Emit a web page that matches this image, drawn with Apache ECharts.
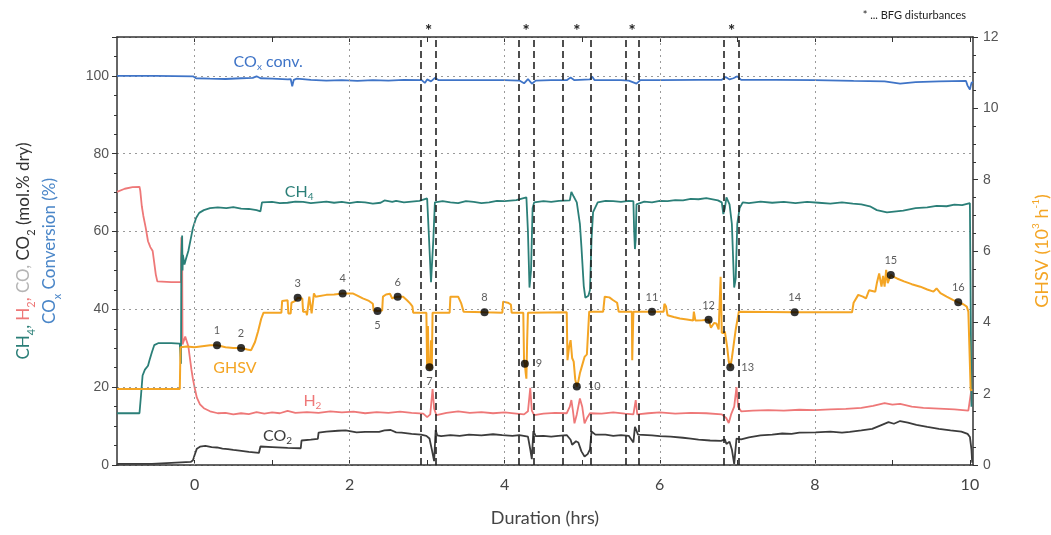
<!DOCTYPE html>
<html>
<head>
<meta charset="utf-8">
<script src="https://cdn.jsdelivr.net/npm/echarts@6/dist/echarts.min.js"></script>
<style>
html, body { margin: 0; padding: 0; background: #fff; }
#main { width: 1051px; height: 535px; }
</style>
</head>
<body>
<div id="main"></div>
<script>
// time in hrs
var coxData = [[-1,100],[-0.5,100],[-0.02,99.9],[0.02,99.4],[0.2,99.3],[0.4,99.2],[0.6,99.4],[0.75,99.5],[0.8,99.9],[0.85,99.4],[1.0,99.3],[1.2,99.1],[1.24,99.2],[1.26,97.3],[1.28,99.0],[1.32,99.3],[1.5,99.0],[1.7,98.8],[1.9,98.9],[2.1,98.7],[2.3,98.9],[2.5,98.8],[2.7,99.0],[2.93,98.9],[2.97,98.2],[3.0,99.1],[3.05,98.6],[3.1,99.5],[3.15,98.9],[3.5,98.9],[4.0,98.9],[4.19,98.8],[4.25,98.1],[4.3,99.2],[4.35,98.0],[4.4,98.8],[4.6,98.9],[4.8,98.9],[4.85,99.6],[4.9,98.9],[5.1,99.1],[5.13,99.8],[5.16,98.9],[5.5,98.9],[5.6,98.8],[5.7,98.0],[5.75,98.9],[6.0,98.9],[6.5,99.0],[6.8,99.0],[6.85,99.7],[6.9,99.1],[6.95,99.4],[7.0,99.9],[7.05,99.0],[7.5,99.0],[8.0,98.9],[8.5,98.7],[8.9,98.6],[9.1,98.0],[9.3,98.4],[9.6,98.6],[9.95,98.7],[9.97,97.5],[10.0,96.5],[10.02,98.2],[10.04,98.5]];

var ch4Data = [[-1.0,13.3],[-0.71,13.3],[-0.69,18],[-0.67,23],[-0.64,24.5],[-0.6,25.5],[-0.58,27],[-0.55,29],[-0.52,30.8],[-0.47,31.3],[-0.3,31.3],[-0.19,31.2],[-0.175,26],[-0.17,53],[-0.16,59],[-0.155,50],[-0.15,54],[-0.13,51.5],[-0.11,53],[-0.08,55],[-0.05,58],[-0.02,61],[0.02,63.5],[0.06,64.8],[0.12,65.5],[0.2,66],[0.3,66.2],[0.41,66],[0.5,66.3],[0.6,65.9],[0.7,65.8],[0.8,65.5],[0.85,65.2],[0.87,67.5],[1.0,67.6],[1.1,67.3],[1.2,67.4],[1.3,67.7],[1.4,67.6],[1.5,67.3],[1.6,67.5],[1.7,67.7],[1.8,67.4],[1.9,67.6],[2.0,67.3],[2.1,67.6],[2.2,67.5],[2.3,67.2],[2.4,67.4],[2.45,68],[2.55,67.6],[2.6,67.9],[2.7,67.5],[2.8,67.7],[2.9,67.9],[2.95,68.2],[3.0,68.5],[3.02,60],[3.05,47],[3.07,46.5],[3.08,58],[3.1,67.5],[3.2,67.8],[3.3,67.5],[3.4,67.3],[3.5,67.8],[3.6,67.6],[3.7,67.3],[3.8,67.5],[3.9,67.9],[4.0,67.8],[4.15,68.1],[4.28,68.8],[4.3,60],[4.32,45.6],[4.34,50],[4.36,66],[4.38,67.5],[4.5,67.8],[4.6,67.6],[4.7,67.9],[4.84,68],[4.86,70.2],[4.89,69],[4.93,67.5],[4.97,62],[4.99,56],[5.02,46],[5.04,43],[5.08,43.5],[5.1,45],[5.12,58],[5.14,65],[5.2,67.5],[5.3,67.9],[5.4,67.8],[5.5,67.6],[5.6,67.9],[5.66,67.8],[5.67,60],[5.68,55.5],[5.69,58],[5.7,67],[5.8,67.7],[5.9,67.5],[6.0,67.9],[6.1,67.8],[6.2,68.1],[6.3,68],[6.4,68.4],[6.5,68.3],[6.6,68.6],[6.75,68],[6.8,67.5],[6.82,64.5],[6.84,66],[6.86,68.8],[6.9,67],[6.93,62],[6.96,45.6],[6.98,48],[7.0,62],[7.03,66],[7.07,67.5],[7.15,67.3],[7.3,67.7],[7.45,67.4],[7.6,67.6],[7.75,67.3],[7.9,67.6],[8.05,67.4],[8.2,67.2],[8.35,67.5],[8.49,67.2],[8.6,67],[8.71,66.5],[8.8,65.5],[8.93,64.9],[9.05,65.2],[9.14,65.4],[9.3,66],[9.45,66.2],[9.57,66.6],[9.7,66.5],[9.8,66.9],[9.9,66.8],[10.0,67.3],[10.01,67.5],[10.02,15]];

var h2Data = [[-1.0,70.2],[-0.9,71],[-0.8,71.4],[-0.71,71.5],[-0.7,70.5],[-0.68,66.5],[-0.66,64],[-0.63,61],[-0.6,57.5],[-0.57,56],[-0.54,55],[-0.52,52],[-0.5,49],[-0.48,47.2],[-0.3,47],[-0.175,47],[-0.17,58.5],[-0.165,49],[-0.16,56],[-0.155,31],[-0.14,31.5],[-0.12,33],[-0.1,32.5],[-0.08,30.5],[-0.06,27.5],[-0.04,24.5],[-0.02,22],[0.0,20],[0.03,17.3],[0.07,15.6],[0.12,14.6],[0.2,13.8],[0.3,13.3],[0.4,13.4],[0.5,13.0],[0.6,13.3],[0.7,13.1],[0.8,13.6],[0.9,13.2],[1.0,13.5],[1.1,13.3],[1.2,13.9],[1.3,13.4],[1.45,13.6],[1.6,13.4],[1.75,13.8],[1.9,13.5],[2.05,13.7],[2.2,13.3],[2.35,13.6],[2.5,13.4],[2.65,13.7],[2.8,13.4],[2.95,13.2],[3.0,12.3],[3.04,13],[3.07,19.5],[3.09,14.5],[3.12,12.8],[3.25,13.4],[3.4,13.8],[3.55,13.4],[3.7,13.6],[3.85,13.3],[4.0,13.5],[4.15,13.2],[4.25,13.0],[4.3,13.8],[4.33,19.8],[4.35,14],[4.38,12.8],[4.5,13.2],[4.65,13.4],[4.8,13.3],[4.84,15],[4.86,16.7],[4.88,14],[4.9,10.7],[4.93,13],[4.97,17.1],[5.0,15],[5.03,10.7],[5.06,12],[5.1,13.3],[5.25,13.2],[5.4,13.5],[5.55,13.2],[5.66,13],[5.69,16.7],[5.71,13],[5.85,13.3],[6.0,13.5],[6.2,13.2],[6.4,13.4],[6.6,13.3],[6.8,13.0],[6.86,12],[6.89,10.8],[6.92,13],[6.96,15],[6.99,20],[7.01,15],[7.05,13.8],[7.2,14],[7.4,14.1],[7.6,14.0],[7.8,14.2],[8.0,14.1],[8.2,14.3],[8.4,14.4],[8.6,14.7],[8.75,15.2],[8.9,15.9],[9.0,15.5],[9.1,15.7],[9.25,15.0],[9.4,14.7],[9.6,14.5],[9.8,14.3],[9.98,14.0],[10.0,14.2],[10.02,19.5]];

var co2Data = [[-1.0,0.3],[-0.55,0.3],[-0.54,0.8],[-0.05,0.8],[-0.02,1.2],[0.0,2.5],[0.03,4.2],[0.07,4.7],[0.14,4.9],[0.22,4.6],[0.29,4.5],[0.36,4.2],[0.43,4.1],[0.5,3.9],[0.58,3.7],[0.7,3.4],[0.83,3.1],[0.85,4.75],[1.0,4.6],[1.2,4.4],[1.37,4.3],[1.38,6.3],[1.5,6.5],[1.59,6.7],[1.6,8.3],[1.7,8.6],[1.85,8.8],[1.95,8.9],[2.09,8.4],[2.2,8.5],[2.38,8.5],[2.45,8.9],[2.53,9.0],[2.6,8.4],[2.67,8.3],[2.8,8.0],[2.92,7.8],[2.99,7.5],[3.03,6.8],[3.06,4],[3.09,1.0],[3.11,9.0],[3.13,7.6],[3.18,7.4],[3.3,7.7],[3.42,7.5],[3.54,7.8],[3.7,7.6],[3.85,7.9],[3.97,7.7],[4.1,7.5],[4.19,7.7],[4.3,7.3],[4.33,4],[4.35,1.5],[4.37,8.7],[4.4,7.4],[4.5,7.5],[4.6,7.3],[4.69,7.5],[4.8,7.7],[4.85,6.5],[4.87,5.2],[4.92,6.1],[4.95,5.8],[4.99,3.5],[5.03,2.2],[5.07,2.8],[5.1,4],[5.12,8.6],[5.17,7.8],[5.3,7.8],[5.4,7.5],[5.5,7.7],[5.6,7.5],[5.66,5.8],[5.68,9.8],[5.72,7.8],[5.9,7.6],[6.0,7.4],[6.14,7.3],[6.3,7.0],[6.4,6.8],[6.5,6.5],[6.65,6.3],[6.79,6.2],[6.84,6.6],[6.86,5.4],[6.9,6.0],[6.93,4],[6.96,0.3],[6.99,6.8],[7.05,6.6],[7.15,7.1],[7.3,7.6],[7.45,7.8],[7.58,8.1],[7.7,8.0],[7.8,8.3],[8.01,8.4],[8.2,8.6],[8.35,8.3],[8.45,8.5],[8.6,8.9],[8.74,9.3],[8.85,10.2],[8.95,11.0],[9.02,10.6],[9.1,11.3],[9.2,10.9],[9.31,10.3],[9.45,9.8],[9.6,9.3],[9.75,8.9],[9.89,8.6],[9.97,8.0],[10.0,7.2],[10.02,4],[10.03,0.6]];

// GHSV in 10^3 h^-1 (right axis)
var ghsvData = [[-1.0,2.13],[-0.19,2.13],[-0.185,2.8],[-0.18,3.3],[-0.1,3.32],[0.0,3.3],[0.1,3.33],[0.2,3.36],[0.29,3.36],[0.4,3.3],[0.5,3.28],[0.6,3.28],[0.68,3.24],[0.73,3.22],[0.78,3.45],[0.82,3.75],[0.86,4.1],[0.89,4.27],[1.0,4.27],[1.12,4.27],[1.13,4.6],[1.2,4.62],[1.21,4.25],[1.24,4.25],[1.25,4.55],[1.3,4.6],[1.33,4.69],[1.39,4.67],[1.4,4.3],[1.44,4.3],[1.45,4.2],[1.47,4.2],[1.48,4.72],[1.5,4.72],[1.51,4.25],[1.53,4.25],[1.54,4.81],[1.56,4.72],[1.58,4.75],[1.7,4.77],[1.8,4.78],[1.91,4.81],[2.04,4.81],[2.1,4.75],[2.17,4.67],[2.25,4.6],[2.3,4.52],[2.31,4.33],[2.36,4.32],[2.42,4.33],[2.43,4.72],[2.47,4.78],[2.52,4.8],[2.55,4.67],[2.58,4.7],[2.62,4.72],[2.69,4.72],[2.74,4.62],[2.78,4.53],[2.81,4.45],[2.82,4.27],[2.99,4.27],[3.0,2.7],[3.01,3.9],[3.02,2.72],[3.04,2.66],[3.05,3.5],[3.06,2.7],[3.07,4.27],[3.29,4.27],[3.3,4.72],[3.4,4.72],[3.44,4.53],[3.47,4.3],[3.48,4.27],[3.74,4.28],[3.97,4.27],[3.98,4.58],[4.04,4.55],[4.08,4.5],[4.09,4.27],[4.24,4.27],[4.25,2.9],[4.26,2.84],[4.27,2.6],[4.28,2.42],[4.29,3.5],[4.3,4.27],[4.8,4.28],[4.81,2.94],[4.83,3.3],[4.85,3.5],[4.87,3.0],[4.89,2.9],[4.91,2.4],[4.93,2.2],[4.95,2.35],[4.97,2.57],[5.0,2.8],[5.03,3.03],[5.06,3.1],[5.08,3.15],[5.09,4.3],[5.27,4.3],[5.29,4.72],[5.35,4.7],[5.4,4.62],[5.45,4.55],[5.47,4.3],[5.64,4.3],[5.645,2.94],[5.655,2.94],[5.66,4.3],[5.9,4.3],[6.05,4.3],[6.06,4.52],[6.08,4.45],[6.1,4.2],[6.18,4.15],[6.26,4.11],[6.35,4.08],[6.43,4.05],[6.44,4.3],[6.46,4.05],[6.55,4.06],[6.63,4.07],[6.66,3.85],[6.7,3.98],[6.73,3.97],[6.76,3.8],[6.785,5.28],[6.8,3.7],[6.84,3.74],[6.87,3.3],[6.89,2.9],[6.91,2.74],[6.93,3.0],[6.95,3.32],[6.98,3.8],[7.02,4.3],[7.74,4.28],[8.48,4.28],[8.5,4.55],[8.56,4.77],[8.62,4.72],[8.66,4.67],[8.7,4.9],[8.78,4.86],[8.8,5.1],[8.83,5.37],[8.86,5.0],[8.88,5.3],[8.9,5.0],[8.92,5.47],[8.94,5.1],[8.98,5.33],[9.01,5.28],[9.06,5.23],[9.15,5.15],[9.25,5.07],[9.36,5.0],[9.45,4.92],[9.53,4.86],[9.57,4.95],[9.62,4.82],[9.7,4.72],[9.78,4.63],[9.85,4.56],[9.92,4.5],[9.96,4.44],[9.98,4.3],[10.0,4.25],[10.01,2.1],[10.03,2.1]];

// numbered sample points on the GHSV curve
var pointX = [0.29,0.6,1.33,1.91,2.36,2.62,3.03,3.74,4.26,4.93,5.9,6.63,6.91,7.74,8.98,9.85];
var pointY = [3.36,3.28,4.69,4.81,4.32,4.72,2.74,4.28,2.84,2.2,4.3,4.07,2.74,4.28,5.33,4.56];

// BFG disturbance windows (hrs)
var disturbStart = [2.925,4.185,4.75,5.56,6.835];
var disturbEnd = [3.11,4.365,5.11,5.73,7.02];

var xLabels = [0,2,4,6,8,10];
var xTicks = [0,1,2,3,4,5,6,7,8,9,10];

var cTeal = '#2b7f78', cPink = '#ee7878', cDark = '#3c3c3c', cOrange = '#f4a524', cBlue = '#3f74c7', cGray = '#b5b5b5';

draw();

function draw(){
    var myChart = echarts.init(document.getElementById('main'));
    var font = 'Lato';

    var subStyle = function(c, size){
        return {color: c, fontSize: size, lineHeight: 16, verticalAlign: 'bottom', fontFamily: font};
    };
    var mainStyle = function(c, size){
        return {color: c, fontSize: size, lineHeight: 26, fontFamily: font};
    };

    var lineLabel = function(text, c){
        return {show: true, position: 'inside', formatter: text, fontFamily: font,
            rich: {m: {color: c, fontSize: 16, lineHeight: 20, fontFamily: font},
                   s: {color: c, fontSize: 10, lineHeight: 12, verticalAlign: 'bottom', fontFamily: font}}};
    };

    var pts = [];
    for (var i = 0; i < pointX.length; i++) {
        var n = i + 1;
        var pos = 'top';
        if (n == 5 || n == 7) pos = 'bottom';
        if (n == 9 || n == 10 || n == 13) pos = 'right';
        pts.push({value: [pointX[i], pointY[i]], label: {position: pos, distance: pos == 'right' ? 7 : 5}});
    }

    var dashLines = [];
    var stars = [];
    for (var j = 0; j < disturbStart.length; j++) {
        dashLines.push({xAxis: disturbStart[j]});
        dashLines.push({xAxis: disturbEnd[j]});
        stars.push({coord: [(disturbStart[j] + disturbEnd[j]) / 2, 110]});
    }

    var frame = {onZero: false, lineStyle: {color: '#333', width: 1.5}};

    var option = {
        animation: false,
        backgroundColor: '#fff',
        title: {
            text: '* ... BFG disturbances',
            right: 80, top: 5,
            textStyle: {fontSize: 11, fontWeight: 'normal', color: '#222', fontFamily: font}
        },
        grid: {left: 117, right: 78, top: 37, bottom: 70, outerBoundsMode: 'none'},
        xAxis: [
            {
                type: 'value', min: -1, max: 10.04, position: 'bottom',
                axisLine: frame,
                axisTick: {inside: true, length: 5, customValues: xTicks, lineStyle: {color: '#333'}},
                axisLabel: {customValues: xLabels, fontSize: 16, color: '#444', fontFamily: font, margin: 12},
                splitLine: {show: false},
                name: 'Duration (hrs)', nameLocation: 'middle', nameGap: 44,
                nameTextStyle: {fontSize: 18, color: '#444', fontFamily: font}
            },
            {
                type: 'value', min: -1, max: 10.04, position: 'top',
                axisLine: frame,
                axisTick: {inside: true, length: 5, customValues: xTicks, lineStyle: {color: '#333'}},
                axisLabel: {show: false},
                splitLine: {show: false}
            }
        ],
        yAxis: [
            {
                type: 'value', min: 0, max: 110, interval: 20, position: 'left',
                axisLine: {show: true, onZero: false, lineStyle: {color: '#333', width: 1.5}},
                axisTick: {show: true, length: 5, lineStyle: {color: '#333'}},
                minorTick: {show: true, splitNumber: 4, length: 3, lineStyle: {color: '#333'}},
                axisLabel: {fontSize: 14, color: '#555', fontFamily: 'Liberation Sans', margin: 8,
                    formatter: function(v){ return v > 100 ? '' : v; }},
                splitLine: {show: true, lineStyle: {type: [2, 4], color: '#9a9a9a'}},
                name: '{t|CH}{ts|4}{t|, }{p|H}{ps|2}{p|, }{g|CO, }{k|CO}{ks|2}{k| (mol.% dry)}\n{b|CO}{bs|x}{b| Conversion (%)}',
                nameLocation: 'middle', nameRotate: 90, nameGap: 54,
                nameTextStyle: {
                    align: 'center',
                    rich: {
                        t: mainStyle(cTeal, 17), ts: subStyle(cTeal, 11),
                        p: mainStyle(cPink, 17), ps: subStyle(cPink, 11),
                        g: mainStyle(cGray, 17),
                        k: mainStyle('#333', 17), ks: subStyle('#333', 11),
                        b: mainStyle('#4a86c8', 17), bs: subStyle('#4a86c8', 11)
                    }
                }
            },
            {
                type: 'value', min: 0, max: 12, interval: 2, position: 'right',
                axisLine: {show: true, onZero: false, lineStyle: {color: '#333', width: 1.5}},
                axisTick: {show: true, length: 5, lineStyle: {color: '#333'}},
                minorTick: {show: true, splitNumber: 4, length: 3, lineStyle: {color: '#333'}},
                axisLabel: {fontSize: 14, color: '#555', fontFamily: 'Liberation Sans', margin: 10},
                splitLine: {show: false},
                name: '{o|GHSV (10}{u|3}{o| h}{u|-1}{o|)}',
                nameLocation: 'middle', nameRotate: 90, nameGap: 58,
                nameTextStyle: {
                    rich: {
                        o: {color: cOrange, fontSize: 18, lineHeight: 22, fontFamily: font},
                        u: {color: cOrange, fontSize: 10, lineHeight: 14, verticalAlign: 'top', fontFamily: font}
                    }
                }
            }
        ],
        series: [
            {
                // dotted vertical grid lines
                type: 'line', data: [], z: 1, silent: true,
                markLine: {
                    symbol: 'none', silent: true, animation: false,
                    label: {show: false},
                    lineStyle: {type: [2, 4], color: '#9a9a9a', width: 1},
                    data: xLabels.slice(0, 5).map(function(v){ return {xAxis: v}; })
                }
            },
            {
                // disturbance windows
                type: 'line', data: [], z: 5, silent: true,
                markLine: {
                    symbol: 'none', silent: true, animation: false,
                    label: {show: false},
                    lineStyle: {type: [7, 4], color: '#222', width: 1.6},
                    data: dashLines
                },
                markPoint: {
                    symbol: 'circle', symbolSize: 0, silent: true,
                    label: {show: true, position: 'top', distance: -3, formatter: '*', fontSize: 17, fontWeight: 'bold', color: '#222', fontFamily: font},
                    data: stars
                }
            },
            {
                name: 'CO2', type: 'line', data: co2Data, showSymbol: false, z: 3,
                lineStyle: {color: cDark, width: 1.8}, itemStyle: {color: cDark},
                markPoint: {symbol: 'circle', symbolSize: 0, silent: true,
                    label: lineLabel('{m|CO}{s|2}', cDark), data: [{coord: [1.07, 7.6]}]}
            },
            {
                name: 'H2', type: 'line', data: h2Data, showSymbol: false, z: 3,
                lineStyle: {color: cPink, width: 1.8}, itemStyle: {color: cPink},
                markPoint: {symbol: 'circle', symbolSize: 0, silent: true,
                    label: lineLabel('{m|H}{s|2}', cPink), data: [{coord: [1.52, 16.6]}]}
            },
            {
                name: 'CH4', type: 'line', data: ch4Data, showSymbol: false, z: 3,
                lineStyle: {color: cTeal, width: 1.8}, itemStyle: {color: cTeal},
                markPoint: {symbol: 'circle', symbolSize: 0, silent: true,
                    label: lineLabel('{m|CH}{s|4}', cTeal), data: [{coord: [1.35, 70.3]}]}
            },
            {
                name: 'COx conv.', type: 'line', data: coxData, showSymbol: false, z: 3,
                lineStyle: {color: cBlue, width: 1.8}, itemStyle: {color: cBlue},
                markPoint: {symbol: 'circle', symbolSize: 0, silent: true,
                    label: lineLabel('{m|CO}{s|x}{m| conv.}', cBlue), data: [{coord: [0.95, 103.6]}]}
            },
            {
                name: 'GHSV', type: 'line', data: ghsvData, yAxisIndex: 1, showSymbol: false, z: 4,
                lineStyle: {color: cOrange, width: 2}, itemStyle: {color: cOrange},
                markPoint: {symbol: 'circle', symbolSize: 0, silent: true,
                    label: lineLabel('{m|GHSV}', cOrange), data: [{coord: [0.52, 2.72]}]}
            },
            {
                name: 'points', type: 'scatter', data: pts, yAxisIndex: 1, z: 6,
                symbolSize: 8, itemStyle: {color: '#000'},
                label: {show: true, fontSize: 11, color: '#333', fontFamily: font,
                    formatter: function(p){ return p.dataIndex + 1; }}
            }
        ]
    };

    myChart.setOption(option);
}
</script>
</body>
</html>
